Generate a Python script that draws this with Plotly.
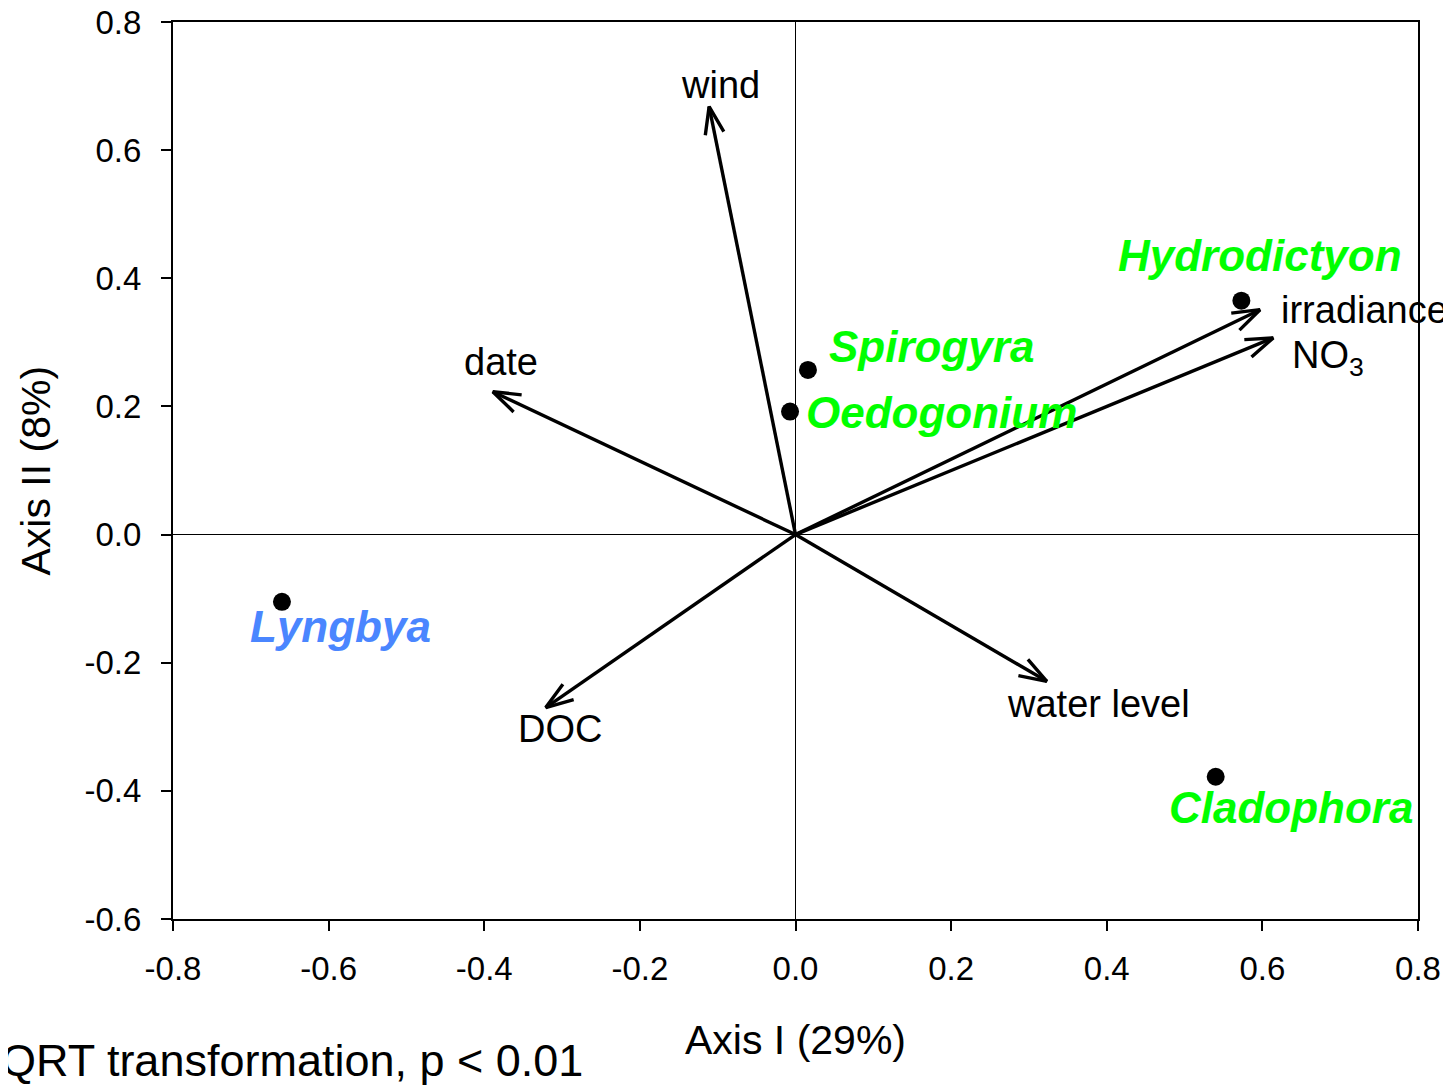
import math
import plotly.graph_objects as go

# --- data ---
species = ["Hydrodictyon", "Spirogyra", "Oedogonium", "Lyngbya", "Cladophora"]
species_x = [0.573, 0.016, -0.007, -0.660, 0.540]
species_y = [0.365, 0.257, 0.192, -0.105, -0.378]
species_color = ["#00FF00", "#00FF00", "#00FF00", "#4A86FF", "#00FF00"]

env = ["wind", "date", "DOC", "water level", "irradiance", "NO<sub>3</sub>"]
env_x = [-0.111, -0.389, -0.321, 0.323, 0.597, 0.614]
env_y = [0.668, 0.223, -0.270, -0.229, 0.351, 0.307]

tick_vals_x = [-0.8, -0.6, -0.4, -0.2, 0.0, 0.2, 0.4, 0.6, 0.8]
tick_text_x = ["-0.8", "-0.6", "-0.4", "-0.2", "0.0", "0.2", "0.4", "0.6", "0.8"]
tick_vals_y = [-0.6, -0.4, -0.2, 0.0, 0.2, 0.4, 0.6, 0.8]
tick_text_y = ["-0.6", "-0.4", "-0.2", "0.0", "0.2", "0.4", "0.6", "0.8"]

# --- layout constants ---
X_RANGE = [-0.8, 0.8]
Y_RANGE = [-0.6, 0.8]
W, H = 1443, 1080
M = dict(l=165, r=33, t=14, b=169)
PX_X = (W - M["l"] - M["r"]) / (X_RANGE[1] - X_RANGE[0])
PX_Y = (H - M["t"] - M["b"]) / (Y_RANGE[1] - Y_RANGE[0])
HEAD_LEN = 29      # px
HEAD_ANGLE = 19    # degrees (half-angle)

species_label_pos = {
    "Hydrodictyon": (0.597, 0.435, "center"),
    "Spirogyra": (0.040, 0.293, "left"),
    "Oedogonium": (0.011, 0.190, "left"),
    "Lyngbya": (-0.704, -0.144, "left"),
    "Cladophora": (0.477, -0.426, "left"),
}
env_label_pos = {
    "wind": (-0.097, 0.701, "center"),
    "date": (-0.379, 0.270, "center"),
    "DOC": (-0.303, -0.304, "center"),
    "water level": (0.389, -0.264, "center"),
    "irradiance": (0.621, 0.350, "left"),
    "NO<sub>3</sub>": (0.635, 0.276, "left"),
}

FONT = "Arial, Liberation Sans, sans-serif"

fig = go.Figure()

# biplot arrows: shaft + open chevron head
for ex, ey in zip(env_x, env_y):
    dx_px, dy_px = ex * PX_X, ey * PX_Y
    ang = math.atan2(dy_px, dx_px)
    xs, ys = [0, ex, None], [0, ey, None]
    for s in (1, -1):
        a = ang + math.pi + s * math.radians(HEAD_ANGLE)
        xs.append(ex + HEAD_LEN * math.cos(a) / PX_X)
        ys.append(ey + HEAD_LEN * math.sin(a) / PX_Y)
        if s == 1:
            xs.append(ex)
            ys.append(ey)
    fig.add_trace(go.Scatter(
        x=xs, y=ys, mode="lines", line=dict(color="black", width=3.4),
        showlegend=False, hoverinfo="skip", cliponaxis=False,
    ))

fig.add_trace(go.Scatter(
    x=species_x, y=species_y, mode="markers",
    marker=dict(size=18, color="black"), showlegend=False, hoverinfo="skip",
    cliponaxis=False,
))

ann = []
for name in env:
    lx, ly, anc = env_label_pos[name]
    ann.append(dict(
        x=lx, y=ly, xref="x", yref="y", text=name, showarrow=False,
        xanchor=anc, yanchor="middle",
        font=dict(family=FONT, size=38, color="black"),
    ))

for name, col in zip(species, species_color):
    lx, ly, anc = species_label_pos[name]
    ann.append(dict(
        x=lx, y=ly, xref="x", yref="y", text=f"<b><i>{name}</i></b>",
        showarrow=False, xanchor=anc, yanchor="middle",
        font=dict(family=FONT, size=44, color=col),
    ))

ann.append(dict(x=0.5, y=0, xref="paper", yref="paper", text="Axis I (29%)",
                showarrow=False, xanchor="center", yanchor="middle", yshift=-121,
                font=dict(family=FONT, size=41, color="black")))
ann.append(dict(x=0, y=0.5, xref="paper", yref="paper", text="Axis II (8%)",
                showarrow=False, xanchor="center", yanchor="middle", xshift=-138,
                textangle=-90, font=dict(family=FONT, size=41, color="black")))
ann.append(dict(x=0, y=0, xref="paper", yref="paper",
                text="SQRT transformation, p < 0.01",
                showarrow=False, xanchor="right", yanchor="middle",
                xshift=412, yshift=-141,
                font=dict(family=FONT, size=45, color="black")))

axis_common = dict(
    showgrid=False, zeroline=True, zerolinecolor="black", zerolinewidth=1,
    showline=True, linecolor="black", linewidth=2, mirror=True,
    ticks="outside", ticklen=10, tickwidth=2, tickcolor="black",
    tickfont=dict(family=FONT, size=33, color="black"),
    automargin=False, ticklabeloverflow="allow",
)

fig.update_layout(
    width=W, height=H,
    margin=M,
    plot_bgcolor="white", paper_bgcolor="white",
    xaxis=dict(range=X_RANGE, tickvals=tick_vals_x, ticktext=tick_text_x,
               ticklabelstandoff=9, **axis_common),
    yaxis=dict(range=Y_RANGE, tickvals=tick_vals_y, ticktext=tick_text_y,
               ticklabelstandoff=13, **axis_common),
    annotations=ann,
    showlegend=False,
)

fig.write_html("out.html")
